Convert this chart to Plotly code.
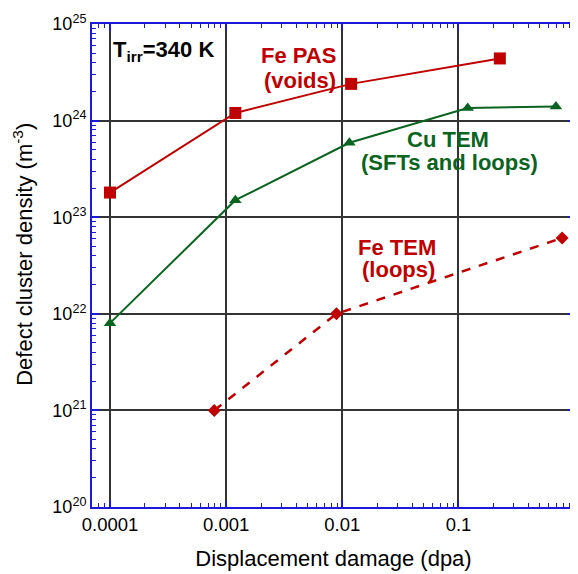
import plotly.graph_objects as go

# Data
fe_pas_x = [0.0001, 0.0012, 0.0119, 0.227]
fe_pas_y = [1.8e23, 1.2e24, 2.4e24, 4.4e24]

cu_tem_x = [0.0001, 0.0012, 0.0115, 0.12, 0.69]
cu_tem_y = [8e21, 1.5e23, 5.9e23, 1.35e24, 1.4e24]

fe_tem_x = [0.00079, 0.0089, 0.78]
fe_tem_y = [1e21, 1e22, 6.1e22]

y_tickvals = [1e20, 1e21, 1e22, 1e23, 1e24, 1e25]
y_exponents = ["20", "21", "22", "23", "24", "25"]
y_ticktext = ["10<sup>%s</sup>" % e for e in y_exponents]

RED = "#c00000"
GREEN = "#0a6420"
BLUE = "#1a1ad8"
FONT = "Liberation Sans, Arial, sans-serif"

fig = go.Figure()
fig.add_trace(go.Scatter(x=fe_pas_x, y=fe_pas_y, mode="lines+markers",
                         line=dict(color=RED, width=2),
                         marker=dict(symbol="square", size=12, color=RED),
                         showlegend=False, cliponaxis=False))
fig.add_trace(go.Scatter(x=cu_tem_x, y=cu_tem_y, mode="lines+markers",
                         line=dict(color=GREEN, width=2),
                         marker=dict(symbol="triangle-up", size=11, color=GREEN),
                         showlegend=False, cliponaxis=False))
fig.add_trace(go.Scatter(x=fe_tem_x, y=fe_tem_y, mode="lines+markers",
                         line=dict(color=RED, width=2.5, dash="dash"),
                         marker=dict(symbol="diamond", size=10, color=RED),
                         showlegend=False, cliponaxis=False))

axis_common = dict(
    showline=True, linecolor=BLUE, linewidth=2, mirror="ticks",
    ticks="inside", tickcolor=BLUE, ticklen=7, tickwidth=1.5,
    showgrid=True, gridcolor="#333333", gridwidth=1.5,
    zeroline=False, automargin=False, ticklabeloverflow="allow",
    minor=dict(ticks="inside", dtick="D1", ticklen=4, tickcolor=BLUE, tickwidth=1.2, showgrid=False),
)

fig.update_xaxes(type="log", range=[-4.155, 0.003], exponentformat="none", tick0=0, dtick=1,
                 tickfont=dict(family=FONT, size=18.5, color="black"),
                 title=dict(text="Displacement damage (dpa)", font=dict(family=FONT, size=22, color="black"), standoff=16),
                 **axis_common)
fig.update_yaxes(type="log", range=[20, 25], tickmode="array", tickvals=y_tickvals, ticktext=y_ticktext,
                 tickfont=dict(family=FONT, size=18, color="black"),
                 **axis_common)

# y-axis title (placed as rotated text to match the reference position)
fig.add_annotation(xref="paper", yref="paper", x=-0.143, y=0.524, xanchor="center", yanchor="middle",
                   text="Defect cluster density (m<sup>-3</sup>)", textangle=-90, showarrow=False,
                   font=dict(family=FONT, size=22, color="black"))

def label(text, x, y, color):
    fig.add_annotation(xref="paper", yref="paper", x=x, y=y, xanchor="center", yanchor="middle",
                       text="<b>%s</b>" % text, showarrow=False,
                       font=dict(family=FONT, size=22, color=color))

fig.add_annotation(xref="paper", yref="paper", x=0.04, y=0.945, xanchor="left", yanchor="middle",
                   text="<b>T<sub>irr</sub>=340 K</b>", showarrow=False,
                   font=dict(family=FONT, size=22, color="black"))
label("Fe PAS", 0.428, 0.934, RED)
label("(voids)", 0.43, 0.884, RED)
label("Cu TEM", 0.737, 0.761, GREEN)
label("(SFTs and loops)", 0.741, 0.714, GREEN)
label("Fe TEM", 0.631, 0.538, RED)
label("(loops)", 0.634, 0.491, RED)

# the page body adds an 8px offset; compensate so the plot area lands where the reference has it
fig.update_layout(width=570, height=566, margin=dict(l=84, r=3, t=16, b=67),
                  plot_bgcolor="white", paper_bgcolor="white",
                  font=dict(family=FONT))

fig.write_html("out.html")
